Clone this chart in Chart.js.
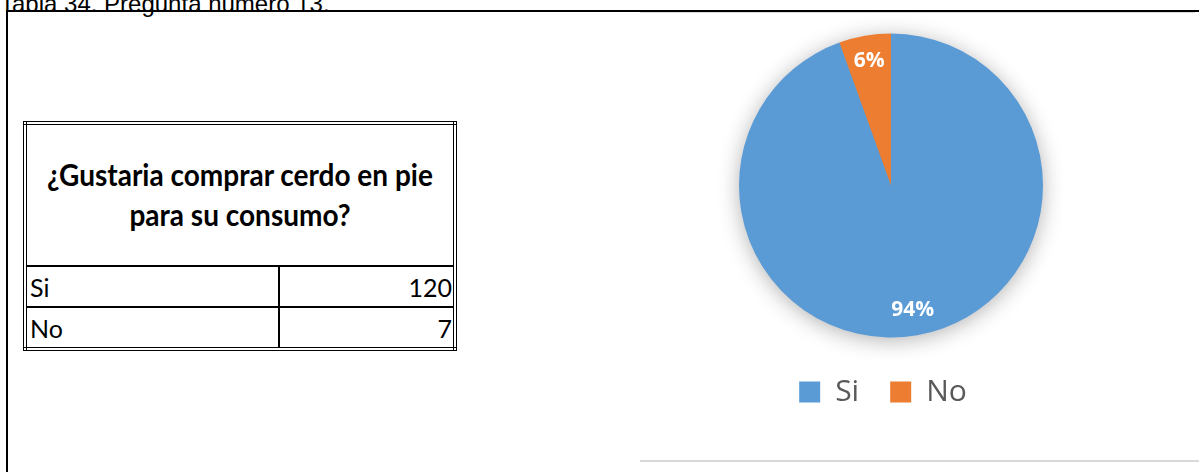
<!DOCTYPE html>
<html>
<head>
<meta charset="utf-8">
<script src="https://cdn.jsdelivr.net/npm/chart.js@4"></script>
<style>
  html, body { margin: 0; padding: 0; background: #fff; width: 1199px; height: 472px; overflow: hidden; position: relative; }
  #caption { position: absolute; left: 0; top: -8px; font: 24px "Liberation Sans", Arial, sans-serif; line-height: 24px; color: #000; white-space: nowrap; }
  #frameTop { position: absolute; left: 6px; top: 10px; width: 1193px; height: 2px; background: #000; }
  #frameLeft { position: absolute; left: 6px; top: 10px; width: 2px; height: 470px; background: #000; }
  #chartTop { position: absolute; left: 640px; top: 12px; width: 555px; height: 1px; background: #d9d9d9; }
  #chartBottom { position: absolute; left: 640px; top: 460px; width: 559px; height: 2px; background: #d9d9d9; }
  #tbl { position: absolute; left: 23px; top: 121px; width: 434px; height: 229px; border: 4px double #000; border-collapse: collapse; box-sizing: border-box; font-family: Lato, "Open Sans", sans-serif; color: #000; }
  #tbl td { padding: 0 3px; }
  #tbl .hdr { height: 140px; text-align: center; font-weight: bold; font-size: 28px; line-height: 37px; border-bottom: 2px solid #000; }
  #tbl .hdr span { display: inline-block; transform: scaleY(1.08); }
  #tbl .row td { height: 39px; font-size: 25px; border-bottom: 2px solid #000; }
  #tbl .row td.v { text-align: right; border-left: 2px solid #000; padding-right: 1px; }
  #wrap { position: absolute; left: 640px; top: 13px; width: 559px; height: 448px; }
</style>
</head>
<body>
<div id="caption">Tabla 34. Pregunta número 13.</div>
<div id="frameTop"></div>
<div id="frameLeft"></div>
<div id="chartTop"></div>
<div id="chartBottom"></div>
<table id="tbl">
  <tr><td class="hdr" colspan="2"><span id="hdrText"></span></td></tr>
  <tr class="row"><td id="c0" style="width:245px"></td><td class="v" id="v0"></td></tr>
  <tr class="row"><td id="c1" style="border-bottom:none"></td><td class="v" id="v1" style="border-bottom:none"></td></tr>
</table>
<div id="wrap"><canvas id="pie" width="559" height="448"></canvas></div>
<script>
const question = "¿Gustaria comprar cerdo en pie<br>para su consumo?";
const categories = ["Si", "No"];
const counts = [120, 7];
const sliceColors = ["#5B9BD5", "#ED7D31"];

document.getElementById("hdrText").innerHTML = question;
categories.forEach((c, i) => {
  document.getElementById("c" + i).textContent = c;
  document.getElementById("v" + i).textContent = counts[i];
});

const total = counts.reduce((a, b) => a + b, 0);

const shadowPlugin = {
  id: "pieShadow",
  beforeDatasetsDraw(chart) {
    const arc = chart.getDatasetMeta(0).data[0];
    if (!arc) return;
    const ctx = chart.ctx;
    ctx.save();
    ctx.shadowColor = "rgba(0,0,0,0.32)";
    ctx.shadowBlur = 22;
    ctx.shadowOffsetX = 0;
    ctx.shadowOffsetY = 3;
    ctx.beginPath();
    ctx.arc(arc.x, arc.y, arc.outerRadius - 1, 0, Math.PI * 2);
    ctx.fillStyle = sliceColors[0];
    ctx.fill();
    ctx.restore();
  }
};

const labelPlugin = {
  id: "pctLabels",
  afterDatasetsDraw(chart) {
    const ctx = chart.ctx;
    const meta = chart.getDatasetMeta(0);
    const vals = chart.data.datasets[0].data;
    ctx.save();
    ctx.fillStyle = "#ffffff";
    ctx.font = "bold 21px 'Open Sans', sans-serif";
    ctx.textAlign = "center";
    ctx.textBaseline = "middle";
    meta.data.forEach((arc, i) => {
      const mid = (arc.startAngle + arc.endAngle) / 2;
      const r = arc.outerRadius * 0.83;
      const x = arc.x + Math.cos(mid) * r;
      const y = arc.y + Math.sin(mid) * r;
      ctx.fillText(Math.round(vals[i] / total * 100) + "%", x, y);
    });
    ctx.restore();
  }
};

const legendShift = {
  id: "legendShift",
  afterLayout(chart) {
    if (chart.legend) { chart.legend.left -= 8; chart.legend.right -= 8; }
  }
};

new Chart(document.getElementById("pie"), {
  type: "pie",
  data: {
    labels: categories,
    datasets: [{
      data: counts,
      backgroundColor: sliceColors,
      borderWidth: 0,
      radius: 152
    }]
  },
  options: {
    responsive: false,
    animation: false,
    layout: { padding: { top: 12, right: 57, bottom: 44, left: 0 } },
    plugins: {
      legend: {
        position: "bottom",
        labels: {
          boxWidth: 21,
          boxHeight: 21,
          padding: 31,
          color: "#595959",
          font: { family: "'Open Sans', sans-serif", size: 30 }
        }
      },
      tooltip: { enabled: false }
    }
  },
  plugins: [shadowPlugin, labelPlugin, legendShift]
});
</script>
</body>
</html>
